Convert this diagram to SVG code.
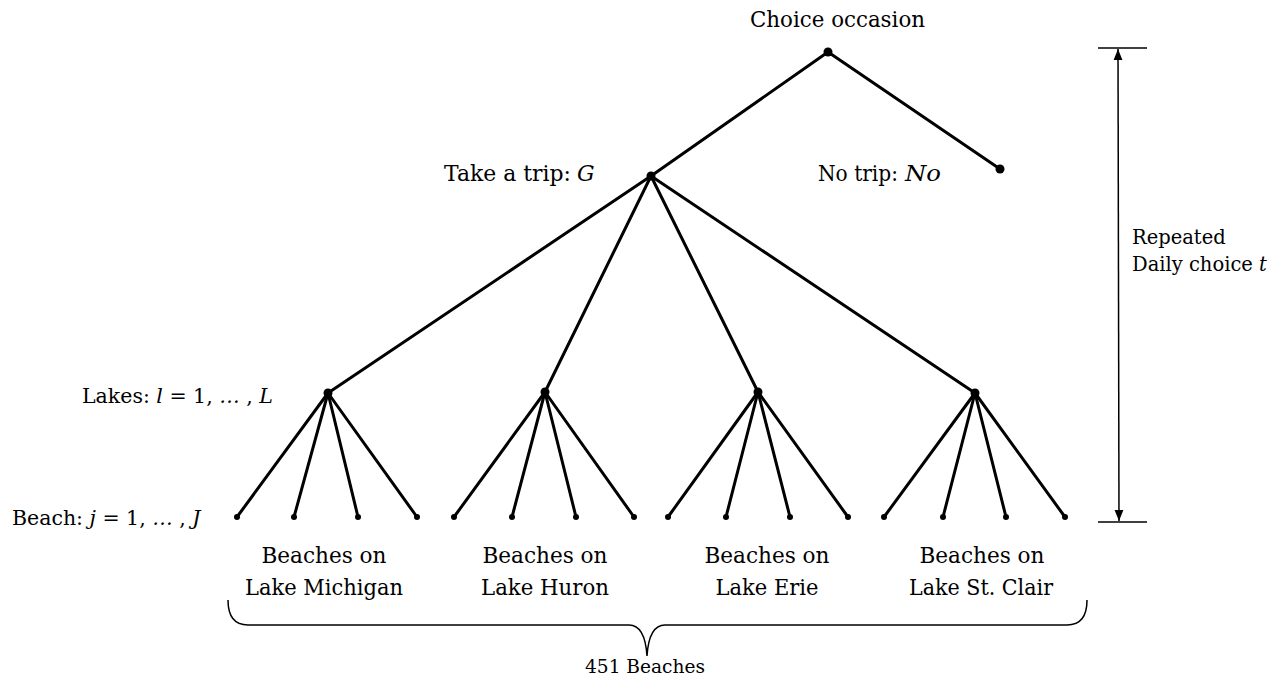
<svg xmlns="http://www.w3.org/2000/svg" width="1282" height="683" viewBox="0 0 1282 683">
<style>
text{font-family:"DejaVu Serif","Liberation Serif",serif;font-size:22px;fill:#000}
.it{font-style:italic}
.math{font-size:20.5px}
.side{font-size:19.5px}
.edge{stroke:#000;stroke-width:3;fill:none;stroke-linecap:round}
.thin{stroke:#000;stroke-width:1.5;fill:none}
.lbl{text-anchor:middle}
</style>
<defs>
<marker id="ah" viewBox="0 0 10 10" refX="10" refY="5" markerWidth="11" markerHeight="11" markerUnits="userSpaceOnUse" orient="auto-start-reverse">
<path d="M0,1 L10,5 L0,9 Z" fill="#000"/>
</marker>
</defs>
<rect width="1282" height="683" fill="#fff"/>
<g id="connectors">
<line class="edge" x1="828" y1="52" x2="651" y2="176"/>
<line class="edge" x1="828" y1="52" x2="1000" y2="169"/>
<line class="edge" x1="651" y1="176" x2="328" y2="393"/>
<line class="edge" x1="651" y1="176" x2="545" y2="392"/>
<line class="edge" x1="651" y1="176" x2="758" y2="392"/>
<line class="edge" x1="651" y1="176" x2="975" y2="393"/>
<line class="edge" x1="328" y1="393" x2="237" y2="517"/>
<line class="edge" x1="328" y1="393" x2="294" y2="517"/>
<line class="edge" x1="328" y1="393" x2="358" y2="517"/>
<line class="edge" x1="328" y1="393" x2="417" y2="517"/>
<line class="edge" x1="545" y1="392" x2="454" y2="517"/>
<line class="edge" x1="545" y1="392" x2="512" y2="517"/>
<line class="edge" x1="545" y1="392" x2="576" y2="517"/>
<line class="edge" x1="545" y1="392" x2="634" y2="517"/>
<line class="edge" x1="758" y1="392" x2="668" y2="517"/>
<line class="edge" x1="758" y1="392" x2="726" y2="517"/>
<line class="edge" x1="758" y1="392" x2="790" y2="517"/>
<line class="edge" x1="758" y1="392" x2="848" y2="517"/>
<line class="edge" x1="975" y1="393" x2="884" y2="517"/>
<line class="edge" x1="975" y1="393" x2="943" y2="517"/>
<line class="edge" x1="975" y1="393" x2="1006" y2="517"/>
<line class="edge" x1="975" y1="393" x2="1065" y2="517"/>
<line class="thin" x1="1118" y1="49" x2="1119" y2="521" marker-start="url(#ah)" marker-end="url(#ah)"/>
<line class="thin" x1="1098" y1="48" x2="1147" y2="48"/>
<line class="thin" x1="1098" y1="522" x2="1147" y2="522"/>
</g>
<g id="choice">
<circle cx="828" cy="52" r="4.5"/>
<text x="750" y="27" textLength="175" lengthAdjust="spacingAndGlyphs">Choice occasion</text>
</g>
<g id="trip">
<circle cx="651" cy="176" r="4.5"/>
<text x="444" y="181" textLength="127" lengthAdjust="spacingAndGlyphs">Take a trip:</text>
<text class="it" x="577" y="181">G</text>
</g>
<g id="notrip">
<circle cx="1000" cy="169" r="4.5"/>
<text x="818" y="181" textLength="80" lengthAdjust="spacingAndGlyphs">No trip:</text>
<text class="it" x="905" y="181" textLength="36" lengthAdjust="spacingAndGlyphs">No</text>
</g>
<g id="lakes">
<circle cx="328" cy="393" r="4.5"/>
<circle cx="545" cy="392" r="4.5"/>
<circle cx="758" cy="392" r="4.5"/>
<circle cx="975" cy="393" r="4.5"/>
<text class="math" x="82" y="403">Lakes: <tspan class="it">l</tspan> = 1, <tspan class="it">…</tspan> , <tspan class="it">L</tspan></text>
</g>
<g id="beaches">
<circle cx="237" cy="517" r="3"/><circle cx="294" cy="517" r="3"/><circle cx="358" cy="517" r="3"/><circle cx="417" cy="517" r="3"/>
<circle cx="454" cy="517" r="3"/><circle cx="512" cy="517" r="3"/><circle cx="576" cy="517" r="3"/><circle cx="634" cy="517" r="3"/>
<circle cx="668" cy="517" r="3"/><circle cx="726" cy="517" r="3"/><circle cx="790" cy="517" r="3"/><circle cx="848" cy="517" r="3"/>
<circle cx="884" cy="517" r="3"/><circle cx="943" cy="517" r="3"/><circle cx="1006" cy="517" r="3"/><circle cx="1065" cy="517" r="3"/>
<text class="math" x="12" y="525">Beach: <tspan class="it">j</tspan> = 1, <tspan class="it">…</tspan> , <tspan class="it">J</tspan></text>
</g>
<g id="repeated">
<text class="side" x="1132" y="244">Repeated</text>
<text class="side" x="1132" y="271">Daily choice <tspan class="it">t</tspan></text>
</g>
<g id="lake-labels">
<text class="lbl" x="324" y="563" textLength="125" lengthAdjust="spacingAndGlyphs">Beaches on</text>
<text class="lbl" x="324" y="595" textLength="158" lengthAdjust="spacingAndGlyphs">Lake Michigan</text>
<text class="lbl" x="545" y="563" textLength="125" lengthAdjust="spacingAndGlyphs">Beaches on</text>
<text class="lbl" x="545" y="595" textLength="128" lengthAdjust="spacingAndGlyphs">Lake Huron</text>
<text class="lbl" x="767" y="563" textLength="125" lengthAdjust="spacingAndGlyphs">Beaches on</text>
<text class="lbl" x="767" y="595" textLength="103" lengthAdjust="spacingAndGlyphs">Lake Erie</text>
<text class="lbl" x="982" y="563" textLength="125" lengthAdjust="spacingAndGlyphs">Beaches on</text>
<text class="lbl" x="981" y="595" textLength="144" lengthAdjust="spacingAndGlyphs">Lake St. Clair</text>
</g>
<g id="brace">
<path class="thin" stroke-width="2.2" d="M228,600 Q228,625 248,625 L629,625 Q645,625 647,656 Q649,625 665,625 L1067,625 Q1087,625 1087,600"/>
<text class="lbl" x="645" y="673" style="font-size:18px" textLength="120" lengthAdjust="spacingAndGlyphs">451 Beaches</text>
</g>
</svg>
